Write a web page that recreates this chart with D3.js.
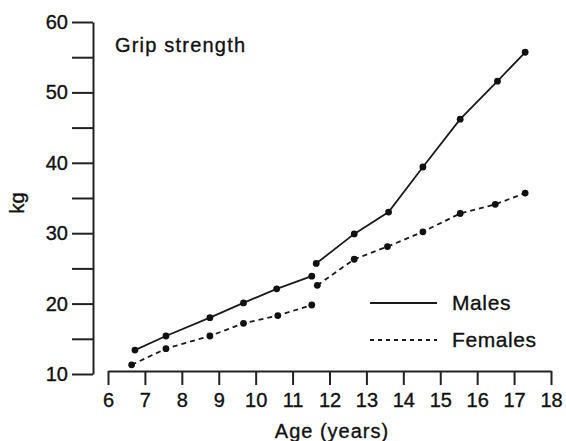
<!DOCTYPE html>
<html>
<head>
<meta charset="utf-8">
<script src="https://cdn.jsdelivr.net/npm/d3@7"></script>
<style>
  body { margin: 0; background: #fff; }
  svg { display: block; }
  text { font-family: "Liberation Sans", Arial, sans-serif; fill: #111; stroke: #111; stroke-width: 0.35px; }
</style>
</head>
<body>
<svg id="svg" width="566" height="441"></svg>
<script>
// ages (years) and grip strength (kg)
var maleAgesA = [6.73, 7.57, 8.76, 9.67, 10.57, 11.52];
var maleKgA   = [13.4, 15.4, 18.0, 20.1, 22.1, 23.9];
var maleAgesB = [11.64, 12.67, 13.6, 14.53, 15.54, 16.55, 17.3];
var maleKgB   = [25.7, 29.9, 33.0, 39.4, 46.2, 51.6, 55.7];

var femaleAgesA = [6.64, 7.57, 8.76, 9.67, 10.6, 11.52];
var femaleKgA   = [11.3, 13.6, 15.4, 17.2, 18.3, 19.8];
var femaleAgesB = [11.67, 12.67, 13.57, 14.53, 15.54, 16.49, 17.3];
var femaleKgB   = [22.6, 26.3, 28.1, 30.2, 32.8, 34.1, 35.7];

var xTicks = [6, 7, 8, 9, 10, 11, 12, 13, 14, 15, 16, 17, 18];
var yTicks = [10, 15, 20, 25, 30, 35, 40, 45, 50, 55, 60];

var svg = d3.select('svg');

var x = d3.scaleLinear().domain([6, 18]).range([108, 551]);
var y = d3.scaleLinear().domain([10, 60]).range([374, 22]);

function pts(ages, vals) {
    return ages.map(function(a, i){ return [a, vals[i]]; });
}

var series = [
    {name: 'Males', dash: null, segs: [pts(maleAgesA, maleKgA), pts(maleAgesB, maleKgB)]},
    {name: 'Females', dash: '5,4', segs: [pts(femaleAgesA, femaleKgA), pts(femaleAgesB, femaleKgB)]}
];

// y axis
var yAxis = svg.append('g')
    .attr('transform', 'translate(93,0)')
    .call(d3.axisLeft(y).tickValues(yTicks).tickSize(21).tickSizeOuter(0)
        .tickFormat(function(d){ return d % 10 === 0 ? d : ''; }));
yAxis.select('.domain').attr('stroke', '#222').attr('stroke-width', 2);
yAxis.selectAll('.tick line').attr('stroke', '#222').attr('stroke-width', 2);
yAxis.selectAll('.tick text')
    .attr('x', -25)
    .attr('font-size', 20)
    .style('font-family', '"Liberation Sans", Arial, sans-serif');

// x axis
var xAxis = svg.append('g')
    .attr('transform', 'translate(0,371)')
    .call(d3.axisBottom(x).tickValues(xTicks).tickSize(14).tickSizeOuter(0));
xAxis.select('.domain').attr('stroke', '#222').attr('stroke-width', 2);
xAxis.selectAll('.tick line').attr('stroke', '#222').attr('stroke-width', 2);
xAxis.selectAll('.tick text')
    .attr('y', 22)
    .attr('font-size', 20)
    .style('font-family', '"Liberation Sans", Arial, sans-serif');

svg.append('text')
    .text('Age (years)')
    .attr('x', 332)
    .attr('y', 438)
    .attr('text-anchor', 'middle')
    .attr('font-size', 20)
    .attr('letter-spacing', 1);

svg.append('text')
    .text('kg')
    .attr('transform', 'translate(24,203) rotate(-90)')
    .attr('text-anchor', 'middle')
    .attr('font-size', 20);

svg.append('text')
    .text('Grip strength')
    .attr('x', 115)
    .attr('y', 52)
    .attr('font-size', 20)
    .attr('letter-spacing', 1.2);

var line = d3.line()
    .x(function(d){ return x(d[0]); })
    .y(function(d){ return y(d[1]); });

series.forEach(function(s){
    s.segs.forEach(function(seg){
        svg.append('path')
            .datum(seg)
            .attr('d', line)
            .attr('fill', 'none')
            .attr('stroke', '#1a1a1a')
            .attr('stroke-width', 1.8)
            .attr('stroke-dasharray', s.dash);

        svg.selectAll(null)
            .data(seg)
            .enter()
            .append('circle')
            .attr('cx', function(d){ return x(d[0]); })
            .attr('cy', function(d){ return y(d[1]); })
            .attr('r', 3.4)
            .attr('fill', '#111');
    });
});

// legend
var legend = svg.append('g');
series.forEach(function(s, i){
    var ly = 303 + i * 37;
    legend.append('line')
        .attr('x1', 370).attr('x2', 437)
        .attr('y1', ly).attr('y2', ly)
        .attr('stroke', '#1a1a1a')
        .attr('stroke-width', 1.8)
        .attr('stroke-dasharray', s.dash ? '4,4' : null);
    legend.append('text')
        .text(s.name)
        .attr('x', 452)
        .attr('y', ly + 7)
        .attr('font-size', 21)
        .attr('letter-spacing', 0.6);
});
</script>
</body>
</html>
